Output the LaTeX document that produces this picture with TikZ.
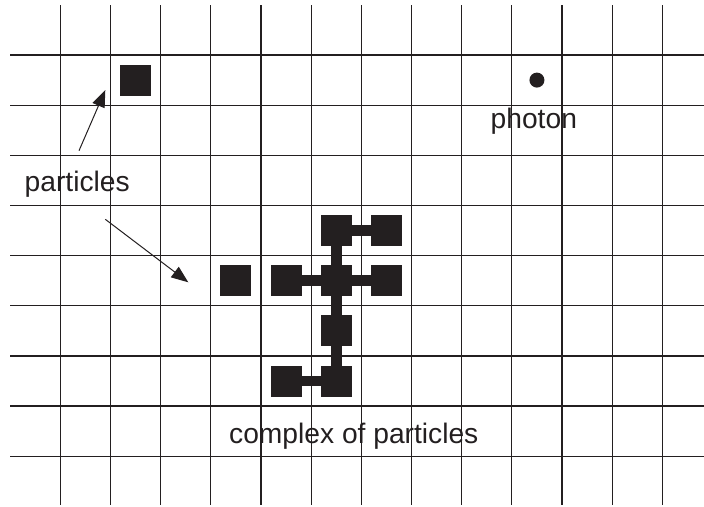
\documentclass[tikz,border=0pt]{standalone}
\usepackage{fontspec}
\setmainfont{Liberation Sans}
\usetikzlibrary{arrows.meta}
\definecolor{ink}{HTML}{231F20}
\tikzset{
  gridline/.style={draw=ink, line width=1.25pt},
  particle/.style={fill=ink, draw=none, minimum size=31pt, inner sep=0pt, outer sep=0pt},
  bond/.style={draw=ink, line width=10.5pt},
  photondot/.style={circle, fill=ink, minimum size=15pt, inner sep=0pt},
  lbl/.style={text=ink, font=\fontsize{28.2}{32}\selectfont, inner sep=0pt, anchor=base west},
  pointer/.style={draw=ink, line width=1pt, -{Triangle[length=17pt,width=13pt]}}
}
\begin{document}
\begin{tikzpicture}[x=1pt,y=-1pt]
\useasboundingbox (0,0) rectangle (704,506);
% grid
\foreach \k in {0,...,12} { \draw[gridline] ({60.3+50.17*\k},5) -- ({60.3+50.17*\k},505); }
\foreach \r in {0,...,8} { \draw[gridline] (10,{55+50.15*\r}) -- (704,{55+50.15*\r}); }
% free particles
\node[particle] (p1) at ({85.4+50.17*1},{80.1}) {};
\node[particle] (p2) at ({85.4+50.17*3},{80.1+50.15*4}) {};
% complex
\node[particle] (c53) at ({85.4+50.17*5},{80.1+50.15*3}) {};
\node[particle] (c63) at ({85.4+50.17*6},{80.1+50.15*3}) {};
\node[particle] (c44) at ({85.4+50.17*4},{80.1+50.15*4}) {};
\node[particle] (c54) at ({85.4+50.17*5},{80.1+50.15*4}) {};
\node[particle] (c64) at ({85.4+50.17*6},{80.1+50.15*4}) {};
\node[particle] (c55) at ({85.4+50.17*5},{80.1+50.15*5}) {};
\node[particle] (c46) at ({85.4+50.17*4},{80.1+50.15*6}) {};
\node[particle] (c56) at ({85.4+50.17*5},{80.1+50.15*6}) {};
\draw[bond] (c53.center) -- (c63.center);
\draw[bond] (c44.center) -- (c64.center);
\draw[bond] (c53.center) -- (c56.center);
\draw[bond] (c46.center) -- (c56.center);
% photon
\node[photondot] (ph) at ({85.4+50.17*9},{80.1}) {};
% labels
\node[lbl] (tpart) at (24.5,191.7) {particles};
\node[lbl] (tphot) at (490.5,128) {photon};
\node[lbl] (tcomp) at (229,443) {complex of particles};
% pointers
\coordinate (a1s) at (79,150.7);
\coordinate (a1e) at (105.3,90);
\coordinate (a2s) at (105.3,219.3);
\coordinate (a2e) at (188.3,282.3);
\draw[pointer] (a1s) -- (a1e);
\draw[pointer] (a2s) -- (a2e);
\end{tikzpicture}
\end{document}
